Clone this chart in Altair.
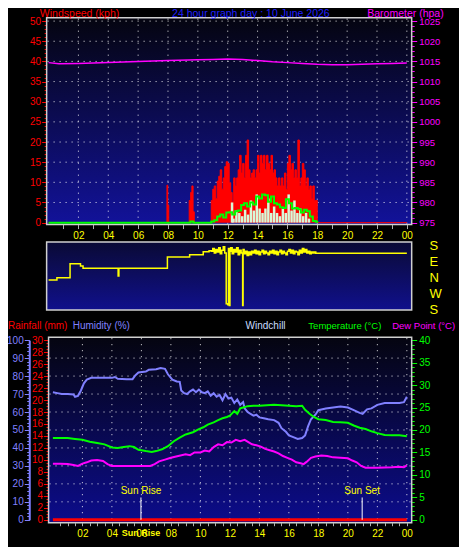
import altair as alt
import pandas as pd

# ---------------- data ----------------
title_main = "24 hour graph day : 10 June 2026"

baro_t = [0, 0.7, 2, 4, 6, 8, 10, 11, 12, 13, 14, 15, 16, 17, 18, 19, 20, 21, 22, 23, 24]
baro_v = [1014.7, 1014.4, 1014.5, 1014.7, 1015.0, 1015.2, 1015.4, 1015.5, 1015.6, 1015.5, 1015.2,
          1014.9, 1014.7, 1014.5, 1014.3, 1014.2, 1014.2, 1014.3, 1014.4, 1014.5, 1014.6]

gust_t = [0, 7.93, 7.98, 8.05, 9.42, 9.52, 9.6, 9.68, 9.76, 10.87,
          10.9, 11.0, 11.1, 11.2, 11.3, 11.4, 11.5, 11.6, 11.7, 11.8, 11.9,
          12.0, 12.1, 12.2, 12.3, 12.4, 12.5, 12.6, 12.7, 12.8, 12.9,
          13.0, 13.1, 13.2, 13.3, 13.4, 13.5, 13.6, 13.7, 13.8, 13.9,
          14.0, 14.1, 14.2, 14.3, 14.4, 14.5, 14.6, 14.7, 14.8, 14.9,
          15.0, 15.1, 15.2, 15.3, 15.4, 15.5, 15.6, 15.7, 15.8, 15.9,
          16.0, 16.1, 16.2, 16.3, 16.4, 16.5, 16.6, 16.7, 16.8, 16.9,
          17.0, 17.1, 17.2, 17.3, 17.4, 17.5, 17.6, 17.7, 17.8, 17.9, 18.0, 24]
gust_v = [0, 9.3, 4.3, 0, 5.5, 7.5, 9.1, 2.7, 0, 0,
          5.5, 8.3, 9.1, 5.9, 10.3, 11.5, 13.1, 8.3, 11.1, 13.9, 15.1,
          14.7, 9.9, 7.5, 5.1, 11.1, 9.1, 11.1, 13.1, 16.7, 12.3,
          14.7, 11.1, 16.7, 20.5, 13.1, 11.1, 12.3, 13.1, 11.1, 13.1,
          16.7, 12.3, 16.7, 14.7, 16.7, 13.1, 16.7, 14.7, 13.1, 16.7,
          12.3, 13.1, 11.1, 9.1, 11.1, 9.1, 11.1, 9.1, 12.3, 8.3,
          14.7, 16.7, 13.1, 14.7, 11.1, 13.1, 11.1, 20.5, 9.1, 11.1,
          14.7, 13.1, 9.1, 11.1, 8.3, 9.1, 5.9, 9.1, 5.5, 5.5, 0, 0]

speed_t = [12.3, 12.4, 12.6, 12.8, 13.0, 13.2, 13.4, 13.6, 13.8, 14.0, 14.2, 14.4, 14.6, 14.8,
           15.0, 15.2, 15.4, 15.6, 15.8, 16.0, 16.2, 16.4, 16.6, 16.8, 17.0, 17.2, 17.4, 17.6]
speed_v = [5.0, 1.0, 3.0, 2.4, 1.6, 3.2, 2.0, 5.5, 3.0, 7.0, 3.5, 2.4, 3.5, 6.0,
           2.4, 4.0, 2.4, 1.6, 3.5, 2.4, 7.0, 3.0, 5.5, 2.4, 3.5, 1.6, 2.4, 1.0]

avg_t = [0, 9.5, 9.7, 10.9, 11.1, 11.3, 11.5, 11.7, 11.9, 12.1, 12.3, 12.5, 12.7, 12.9,
         13.1, 13.3, 13.5, 13.7, 13.9, 14.1, 14.3, 14.5, 14.7, 14.9, 15.1, 15.3, 15.5,
         15.7, 15.9, 16.1, 16.3, 16.5, 16.7, 16.9, 17.1, 17.3, 17.5, 17.7, 17.9, 18.0]
avg_v = [0, 0.3, 0, 0.3, 0.6, 1.5, 2.0, 1.3, 2.5, 2.6, 2.0, 2.8, 3.0, 4.4,
         4.8, 4.0, 5.0, 4.5, 6.5, 6.0, 7.0, 6.8, 5.2, 6.5, 4.8, 4.5, 3.8,
         3.6, 5.8, 4.8, 3.5, 3.6, 3.3, 2.5, 3.2, 2.8, 1.5, 0.4, 0.2, 0]

dir_t = [0, 0.56, 1.44, 2.14, 2.31, 4.66, 4.71, 7.96, 9.45, 10.36, 10.75,
         10.9, 11.0, 11.1, 11.2, 11.3, 11.4, 11.5, 11.6, 11.7, 11.8, 11.9, 12.0, 12.05,
         12.1, 12.15, 12.2, 12.3, 12.4, 12.5, 12.6, 12.7, 12.8, 12.9, 13.0, 13.03,
         13.1, 13.2, 13.3, 13.4, 13.5, 13.6, 13.7, 13.8, 13.9, 14.0, 14.1, 14.2,
         14.3, 14.4, 14.5, 14.6, 14.7, 14.8, 14.9, 15.0, 15.1, 15.2, 15.3, 15.4,
         15.5, 15.6, 15.7, 15.8, 15.9, 16.0, 16.1, 16.2, 16.3, 16.4, 16.5, 16.6,
         16.7, 16.8, 16.9, 17.0, 17.1, 17.2, 17.3, 17.4, 17.5, 17.6, 17.7, 17.8,
         17.9, 18.0, 24.0]
dir_v = [-14, -1, 79, 65, 53, 8, 53, 117, 130, 147, 152,
         150, 165, 140, 160, 145, 170, 135, 155, 175, 140, -150, -155, 165,
         -160, 150, 170, 135, 160, 145, 170, 130, 155, 140, -160, 160,
         135, 150, 125, 145, 130, 150, 140, 155, 135, 150, 130, 145,
         155, 135, 150, 140, 130, 150, 140, 155, 135, 150, 130, 145,
         155, 135, 150, 140, 130, 150, 160, 140, 155, 135, 150, 145,
         130, 155, 140, 165, 145, 160, 140, 150, 135, 145, 140, 145,
         139, 139, 139]

hum_t = [0, 0.3, 0.6, 1.0, 1.4, 1.5, 1.7, 1.9, 2.1, 2.3, 2.6, 3.0, 3.5, 4.0, 4.2, 4.4, 5.0,
         5.4, 5.6, 5.8, 6.3, 6.5, 7.0, 7.3, 7.6, 7.8, 8.1, 8.4, 8.6, 8.7, 8.9, 9.1, 9.3, 9.5,
         9.7, 9.9, 10.1, 10.3, 10.5, 10.7, 10.9, 11.1, 11.3, 11.5, 11.7, 11.9, 12.1, 12.3,
         12.5, 12.7, 12.9, 13.0, 13.2, 13.4, 13.6, 13.8, 14.0, 14.3, 14.6, 15.0, 15.3, 15.5,
         15.8, 16.0, 16.3, 16.6, 16.9, 17.1, 17.3, 17.5, 17.8, 18.0, 18.5, 19.0, 19.5, 20.0,
         20.4, 20.8, 21.0, 21.3, 21.6, 22.0, 22.5, 23.0, 23.5, 23.8, 24.0]
hum_v = [71, 70.5, 70, 70, 69.8, 68.5, 69, 72, 76, 78, 79, 79, 79, 79, 79.5, 78.5, 78.3,
         78.3, 80.5, 82, 82.5, 83.5, 83.8, 84.5, 84, 81, 78, 77, 76.8, 72, 70.5, 70, 71.5, 72.5,
         71, 72.5, 71, 70.5, 71.5, 69, 70.5, 68.5, 69.5, 66.5, 70, 67.5, 68, 65,
         67, 64, 65.5, 62, 60, 59, 58, 58.5, 57, 56.5, 56, 55.5, 54, 51,
         49, 47, 46, 45, 45.5, 47, 52, 56, 58.5, 61, 62, 62.5, 63, 62.5,
         61, 59.5, 59, 61.5, 62, 64, 65, 65, 65, 65.5, 68.5]

temp_t = [0, 0.5, 1.0, 1.5, 2.0, 2.5, 3.0, 3.5, 4.0, 4.4, 4.8, 5.2, 5.5, 5.8, 6.3, 6.7, 7.0,
          7.4, 7.8, 8.2, 8.6, 9.0, 9.5, 9.9, 10.2, 10.5, 10.9, 11.2, 11.5, 11.8, 12.0, 12.3,
          12.5, 12.7, 12.9, 13.2, 13.6, 14.0, 14.5, 15.0, 15.5, 16.0, 16.5, 16.9, 17.1, 17.4,
          17.7, 18.0, 18.5, 19.0, 19.5, 20.0, 20.4, 20.8, 21.2, 21.6, 22.0, 22.5, 23.0, 23.5, 24.0]
temp_v = [18.2, 18.2, 18.2, 18.0, 17.8, 17.4, 17.1, 16.8, 16.1, 16.0, 16.2, 16.4, 16.2, 15.6,
          15.3, 15.1, 15.3, 15.7, 16.4, 17.5, 18.3, 19.0, 19.5, 20.2, 20.6, 21.2, 21.7, 22.2,
          22.6, 22.9, 23.2, 24.2, 23.6, 24.8, 25.0, 25.3, 25.4, 25.4, 25.5, 25.6, 25.5, 25.4,
          25.3, 25.4, 24.5, 23.6, 22.9, 22.4, 22.2, 21.8, 21.7, 21.6, 21.0, 20.5, 20.2, 19.7,
          19.3, 18.9, 18.8, 18.8, 18.6]

dew_t = [0, 0.5, 1.0, 1.4, 1.7, 2.0, 2.3, 2.6, 3.0, 3.4, 3.7, 4.0, 5.0, 6.0, 6.6, 6.9, 7.2,
         7.6, 8.0, 8.5, 9.0, 9.3, 9.6, 10.0, 10.3, 10.6, 10.9, 11.2, 11.5, 11.8, 12.1, 12.4,
         12.7, 13.0, 13.2, 13.5, 13.8, 14.1, 14.4, 14.7, 15.0, 15.3, 15.6, 15.9, 16.2, 16.5,
         16.8, 17.0, 17.2, 17.5, 17.8, 18.2, 18.6, 19.0, 19.5, 20.0, 20.3, 20.6, 20.9, 21.2,
         22.0, 23.0, 23.5, 23.8, 24.0]
dew_v = [12.5, 12.5, 12.4, 12.2, 12.0, 12.5, 12.8, 13.2, 13.3, 13.1, 12.4, 12.0, 12.0, 12.0,
         12.0, 12.4, 13.0, 13.4, 13.8, 14.2, 14.6, 14.4, 15.0, 15.0, 15.4, 15.2, 16.2, 16.8,
         16.6, 17.3, 17.2, 17.8, 17.5, 17.8, 17.4, 16.8, 16.6, 16.3, 15.8, 15.5, 15.2, 14.8,
         14.2, 13.8, 13.4, 12.8, 12.6, 12.4, 12.9, 13.8, 14.1, 14.3, 14.2, 13.9, 13.8, 13.7,
         13.2, 12.8, 12.0, 11.6, 11.6, 11.7, 11.8, 11.7, 12.1]

rain_t = [0, 24]
rain_v = [0, 0]

sun_t = [5.97, 20.97]
sun_labels = ["Sun Rise", "Sun Set"]

wind_ticks = [0, 5, 10, 15, 20, 25, 30, 35, 40, 45, 50]
baro_ticks = [975, 980, 985, 990, 995, 1000, 1005, 1010, 1015, 1020, 1025]
dir_ticks = [-180, -90, 0, 90, 180]
hum_ticks = [0, 10, 20, 30, 40, 50, 60, 70, 80, 90, 100]
rain_ticks = [0, 2, 4, 6, 8, 10, 12, 14, 16, 18, 20, 22, 24, 26, 28, 30]
temp_ticks = [0, 5, 10, 15, 20, 25, 30, 35, 40]
hour_ticks = [2, 4, 6, 8, 10, 12, 14, 16, 18, 20, 22, 24]

# ---------------- layout helpers ----------------
W, H = 451, 539
SX, SY = W / 467, H / 555
def X(x): return x * SX
def Y(y): return y * SY

FONT = "Liberation Sans"
HUM_C = "#8080ff"

t_top = alt.Scale(domain=[0, 24], range=[X(42), X(413)])
t_bot = alt.Scale(domain=[0, 24], range=[X(46.5), X(413)])
wind_s = alt.Scale(domain=[0, 50], range=[Y(221), Y(13.5)])
baro_s = alt.Scale(domain=[975, 1025], range=[Y(221), Y(13.5)])
dir_s = alt.Scale(domain=[-180, 180], range=[Y(310), Y(245)])
hum_s = alt.Scale(domain=[0, 100], range=[Y(527), Y(342)])
temp_s = alt.Scale(domain=[0, 40], range=[Y(527), Y(342)])
rain_s = alt.Scale(domain=[0, 30], range=[Y(527), Y(342)])

one = pd.DataFrame({"a": [0]})

def grad(c0, c1):
    return alt.LinearGradient(gradient="linear", x1=0, x2=0, y1=0, y2=1,
                              stops=[alt.GradientStop(offset=0, color=c0),
                                     alt.GradientStop(offset=1, color=c1)])

def panel(x0, y0, x1, y1, c0, c1):
    return alt.Chart(one).mark_rect(fill=grad(c0, c1), stroke="#d0d0d0", strokeWidth=1.5).encode(
        x=alt.value(X(x0)), x2=alt.value(X(x1)), y=alt.value(Y(y0)), y2=alt.value(Y(y1)))

def text(s, x, y, color, size=10.5, align="left"):
    return alt.Chart(one).mark_text(text=s, color=color, font=FONT, fontSize=size,
                                    align=align, baseline="middle").encode(
        x=alt.value(X(x)), y=alt.value(Y(y)))

def _axis(kw):
    base = dict(title=None, grid=False, domain=False, labelFont=FONT, labelFontSize=10,
                labelOverlap=False, labelBound=False, labelFlush=False)
    base.update(kw)
    return alt.Axis(**base)

def yaxis(dom, scale, **kw):
    df = pd.DataFrame({"v": dom})
    return alt.Chart(df).mark_point(opacity=0).encode(
        y=alt.Y("v:Q", scale=scale, axis=_axis(kw)))

def xaxis(dom, scale, **kw):
    df = pd.DataFrame({"v": dom})
    return alt.Chart(df).mark_point(opacity=0).encode(
        x=alt.X("v:Q", scale=scale, axis=_axis(kw)))

def hgrid(vals, scale, x0, x1):
    return alt.Chart(pd.DataFrame({"v": vals})).mark_rule(
        color="white", strokeDash=[1, 5], strokeWidth=1, opacity=0.9).encode(
        y=alt.Y("v:Q", scale=scale, axis=None), x=alt.value(X(x0)), x2=alt.value(X(x1)))

def vgrid(vals, scale, y0, y1):
    return alt.Chart(pd.DataFrame({"v": vals})).mark_rule(
        color="white", strokeDash=[1, 5], strokeWidth=1, opacity=0.9).encode(
        x=alt.X("v:Q", scale=scale, axis=None), y=alt.value(Y(y0)), y2=alt.value(Y(y1)))

LBL = ("datum.value % 2 == 0 ? (datum.value == 24 ? '00' : (datum.value < 10 ? '0' + datum.value"
       " : '' + datum.value)) : ''")

layers = []

# ---------- backgrounds ----------
layers.append(panel(40, 10, 418, 223, "#050510", "#12129a"))
layers.append(panel(40, 241, 418, 311, "#0a0a35", "#10108c"))
layers.append(panel(42, 339, 418, 530, "#050510", "#0c0c8c"))

# ---------- top panel ----------
layers.append(hgrid(wind_ticks[1:], wind_s, 41, 417))
layers.append(vgrid(hour_ticks, t_top, 11, 222))

gust_df = pd.DataFrame({"t": gust_t, "v": gust_v})
layers.append(alt.Chart(gust_df).mark_area(interpolate="step-after", color="#ff0000").encode(
    x=alt.X("t:Q", scale=t_top, axis=None), y=alt.Y("v:Q", scale=wind_s, axis=None)))
layers.append(alt.Chart(gust_df).mark_line(interpolate="step-after", color="#ff0000", strokeWidth=1).encode(
    x=alt.X("t:Q", scale=t_top, axis=None), y=alt.Y("v:Q", scale=wind_s, axis=None)))

speed_df = pd.DataFrame({"t": speed_t, "v": speed_v})
layers.append(alt.Chart(speed_df).mark_bar(color="#d8f8d8", width=2.5).encode(
    x=alt.X("t:Q", scale=t_top, axis=None), y=alt.Y("v:Q", scale=wind_s, axis=None)))

avg_df = pd.DataFrame({"t": avg_t, "v": avg_v})
layers.append(alt.Chart(avg_df).mark_line(interpolate="step-after", color="#00ff00", strokeWidth=2).encode(
    x=alt.X("t:Q", scale=t_top, axis=None), y=alt.Y("v:Q", scale=wind_s, axis=None)))

baro_df = pd.DataFrame({"t": baro_t, "v": baro_v})
layers.append(alt.Chart(baro_df).mark_line(color="#ff00ff", strokeWidth=1.5).encode(
    x=alt.X("t:Q", scale=t_top, axis=None), y=alt.Y("v:Q", scale=baro_s, axis=None)))

layers.append(yaxis([0, 50], wind_s, orient="left", offset=-X(40), values=wind_ticks,
                    labelColor="#ff0000", tickColor="#ff0000", tickSize=5, labelPadding=1))
layers.append(yaxis([0, 50], wind_s, orient="left", offset=-X(40), values=list(range(0, 51)),
                    labels=False, tickColor="#ff0000", tickSize=2.5))
layers.append(yaxis([975, 1025], baro_s, orient="right", offset=-(W - X(418)), values=baro_ticks,
                    format="d", labelColor="#ff00ff", tickColor="#ff00ff", tickSize=5, labelPadding=2,
                    labelFontSize=9.5))
layers.append(yaxis([975, 1025], baro_s, orient="right", offset=-(W - X(418)),
                    values=[975 + 1.25 * i for i in range(41)],
                    labels=False, tickColor="#ff00ff", tickSize=2.5))
layers.append(xaxis([0, 24], t_top, orient="bottom", offset=-(H - Y(223)), values=list(range(1, 25)),
                    labelExpr=LBL, labelColor="#ffff00", tickColor="#b0b0b0", tickSize=4, labelPadding=2))

# ---------- direction panel ----------
dir_df = pd.DataFrame({"t": dir_t, "v": dir_v})
layers.append(alt.Chart(dir_df).mark_line(interpolate="step-after", color="#ffff00", strokeWidth=1.5).encode(
    x=alt.X("t:Q", scale=t_top, axis=None), y=alt.Y("v:Q", scale=dir_s, axis=None)))
layers.append(yaxis([-180, 180], dir_s, orient="right", offset=-(W - X(418)), values=dir_ticks,
                    ticks=False, labelPadding=X(18), labelColor="#ffff00", labelFontSize=13,
                    labelExpr="datum.value == 0 ? 'N' : (datum.value == 90 ? 'E' : (datum.value == -90 ? 'W' : 'S'))"))

# ---------- bottom panel ----------
layers.append(hgrid(hum_ticks[1:-1], hum_s, 43, 417))
layers.append(vgrid(hour_ticks, t_bot, 340, 529))

rain_df = pd.DataFrame({"t": rain_t, "v": rain_v})
layers.append(alt.Chart(rain_df).mark_line(color="#ff0000", strokeWidth=3).encode(
    x=alt.X("t:Q", scale=t_bot, axis=None), y=alt.Y("v:Q", scale=rain_s, axis=None)))

hum_df = pd.DataFrame({"t": hum_t, "v": hum_v})
layers.append(alt.Chart(hum_df).mark_line(color=HUM_C, strokeWidth=2).encode(
    x=alt.X("t:Q", scale=t_bot, axis=None), y=alt.Y("v:Q", scale=hum_s, axis=None)))

temp_df = pd.DataFrame({"t": temp_t, "v": temp_v})
layers.append(alt.Chart(temp_df).mark_line(color="#00ff00", strokeWidth=2).encode(
    x=alt.X("t:Q", scale=t_bot, axis=None), y=alt.Y("v:Q", scale=temp_s, axis=None)))

dew_df = pd.DataFrame({"t": dew_t, "v": dew_v})
layers.append(alt.Chart(dew_df).mark_line(color="#ff00ff", strokeWidth=2).encode(
    x=alt.X("t:Q", scale=t_bot, axis=None), y=alt.Y("v:Q", scale=temp_s, axis=None)))

sun_df = pd.DataFrame({"t": sun_t, "label": sun_labels})
layers.append(alt.Chart(sun_df).mark_rule(color="white", strokeWidth=1).encode(
    x=alt.X("t:Q", scale=t_bot, axis=None), y=alt.value(Y(504)), y2=alt.value(Y(527))))
layers.append(alt.Chart(sun_df).mark_text(color="#ffff00", font=FONT, fontSize=10, baseline="middle").encode(
    x=alt.X("t:Q", scale=t_bot, axis=None), y=alt.value(Y(497)), text="label:N"))

layers.append(yaxis([0, 100], hum_s, orient="left", offset=-X(22), values=hum_ticks, domain=True,
                    domainColor=HUM_C, domainWidth=2, labelColor=HUM_C, tickColor=HUM_C,
                    tickSize=5, labelPadding=1))
layers.append(yaxis([0, 100], hum_s, orient="left", offset=-X(22), values=list(range(0, 101, 2)),
                    labels=False, tickColor=HUM_C, tickSize=2.5))
layers.append(yaxis([0, 30], rain_s, orient="left", offset=-X(42), values=rain_ticks,
                    labelColor="#ff0000", tickColor="#ff0000", tickSize=5, labelPadding=1))
layers.append(yaxis([0, 30], rain_s, orient="left", offset=-X(42), values=[0.5 * i for i in range(61)],
                    labels=False, tickColor="#ff0000", tickSize=2.5))
layers.append(yaxis([0, 40], temp_s, orient="right", offset=-(W - X(418)), values=temp_ticks,
                    labelColor="#00ff00", tickColor="#00ff00", tickSize=5, labelPadding=2))
layers.append(yaxis([0, 40], temp_s, orient="right", offset=-(W - X(418)), values=list(range(0, 41)),
                    labels=False, tickColor="#00ff00", tickSize=2.5))
layers.append(xaxis([0, 24], t_bot, orient="bottom", offset=-(H - Y(530)),
                    values=[0.5 * i for i in range(1, 49)],
                    labelExpr=LBL, labelColor="#ffff00", tickColor="#b0b0b0", tickSize=3, labelPadding=3))
layers.append(alt.Chart(sun_df.iloc[:1]).mark_text(color="#ffff00", font=FONT, fontSize=9,
                                                  fontWeight="bold", baseline="middle").encode(
    x=alt.X("t:Q", scale=t_bot, axis=None), y=alt.value(Y(541)), text="label:N"))

# ---------- titles ----------
layers.append(text("Windspeed (kph)", 33, 6.2, "#ff0000"))
layers.append(text(title_main, 251.5, 6.2, "#2020ff", align="center"))
layers.append(text("Barometer (hpa)", 372, 6.2, "#ff00ff"))
layers.append(text("Rainfall (mm)", 0, 327, "#ff0000", size=10))
layers.append(text("Humidity (%)", 67, 327, HUM_C, size=10))
layers.append(text("Windchill", 246, 327, "#c8dcff", size=10))
layers.append(text("Temperature (°C)", 311, 327, "#00ff00", size=9.5))
layers.append(text("Dew Point (°C)", 463, 327, "#ff00ff", size=9.5, align="right"))

chart = alt.layer(*layers).resolve_scale(x="independent", y="independent").properties(
    width=W, height=H, padding=0, background="black",
    autosize=alt.AutoSizeParams(type="none"),
).configure_view(stroke=None)

chart.save("out.html", embed_options={"renderer": "svg", "actions": False})
